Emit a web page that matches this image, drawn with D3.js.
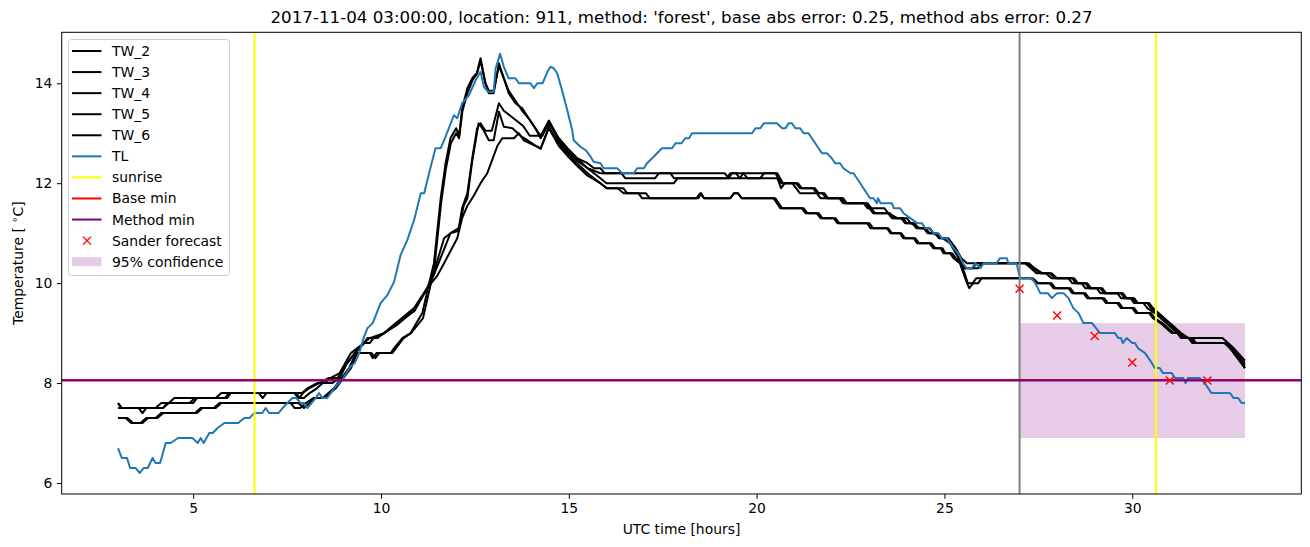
<!DOCTYPE html>
<html>
<head>
<meta charset="utf-8">
<script src="https://cdn.jsdelivr.net/npm/d3@7"></script>
<style>
  body { margin: 0; background: #fff; }
  svg { font-family: "DejaVu Sans", sans-serif; }
</style>
</head>
<body>
<svg id="chart" width="1310" height="547"></svg>
<script>
// ---- data: [UTC hour, temperature] ----
const tl = [[3.0,6.7],[3.1,6.5],[3.24,6.5],[3.32,6.3],[3.47,6.3],[3.58,6.2],[3.68,6.3],[3.79,6.3],[3.92,6.5],[4.0,6.4],[4.12,6.4],[4.27,6.8],[4.4,6.8],[4.6,6.9],[4.98,6.9],[5.12,6.8],[5.2,6.9],[5.28,6.8],[5.43,7.0],[5.52,7.0],[5.65,7.1],[5.83,7.2],[6.2,7.2],[6.36,7.3],[6.5,7.3],[6.62,7.4],[6.84,7.4],[6.93,7.5],[7.02,7.4],[7.27,7.4],[7.38,7.5],[7.51,7.6],[7.64,7.7],[7.75,7.7],[7.86,7.6],[7.95,7.6],[8.04,7.5],[8.15,7.6],[8.26,7.7],[8.35,7.8],[8.44,7.7],[8.57,7.7],[8.66,7.8],[8.75,7.9],[8.88,8.0],[9.0,8.1],[9.19,8.33],[9.3,8.4],[9.42,8.6],[9.55,8.93],[9.64,9.1],[9.78,9.2],[9.9,9.43],[9.99,9.6],[10.17,9.76],[10.35,10.03],[10.52,10.56],[10.7,10.86],[10.88,11.26],[11.06,11.8],[11.15,11.8],[11.28,12.2],[11.45,12.7],[11.59,12.7],[11.72,12.93],[11.94,13.36],[12.03,13.3],[12.16,13.6],[12.34,13.76],[12.52,14.06],[12.65,14.23],[12.74,13.93],[12.85,13.83],[13.0,13.83],[13.05,14.29],[13.17,14.59],[13.27,14.33],[13.4,14.1],[13.58,14.1],[13.67,14.0],[13.98,14.0],[14.07,13.9],[14.16,14.0],[14.3,14.0],[14.43,14.23],[14.51,14.33],[14.6,14.3],[14.69,14.2],[14.82,13.86],[14.96,13.46],[15.09,13.06],[15.13,12.86],[15.31,12.73],[15.45,12.66],[15.58,12.53],[15.66,12.43],[15.84,12.4],[15.93,12.3],[16.29,12.3],[16.42,12.2],[16.73,12.2],[16.82,12.3],[17.0,12.3],[17.08,12.4],[17.22,12.5],[17.35,12.6],[17.48,12.7],[17.75,12.7],[17.84,12.8],[18.0,12.8],[18.1,12.9],[18.2,12.9],[18.28,13.0],[19.88,13.0],[19.97,13.1],[20.1,13.1],[20.19,13.2],[20.54,13.2],[20.68,13.1],[20.77,13.1],[20.85,13.2],[20.94,13.2],[21.03,13.1],[21.16,13.1],[21.25,13.0],[21.38,13.0],[21.74,12.6],[21.87,12.6],[22.0,12.5],[22.09,12.4],[22.22,12.4],[22.31,12.3],[22.5,12.2],[22.58,12.2],[22.67,12.1],[23.02,11.7],[23.11,11.7],[23.2,11.6],[23.23,11.7],[23.3,11.6],[23.6,11.6],[23.65,11.5],[23.82,11.5],[23.91,11.4],[24.09,11.3],[24.27,11.2],[24.4,11.2],[24.49,11.1],[24.62,11.1],[24.71,11.0],[24.84,11.0],[24.93,10.9],[25.06,10.9],[25.15,10.8],[25.24,10.7],[25.37,10.59],[25.5,10.39],[25.59,10.3],[25.73,10.3],[25.82,10.4],[25.96,10.3],[26.04,10.4],[26.39,10.4],[26.48,10.5],[26.66,10.5],[26.7,10.4],[26.92,10.4],[27.01,10.1],[27.32,10.1],[27.42,10.0],[27.55,9.8],[27.75,9.8],[27.86,9.7],[28.0,9.8],[28.17,9.8],[28.3,9.7],[28.43,9.5],[28.57,9.4],[28.7,9.2],[28.93,9.2],[29.14,9.0],[29.54,9.0],[29.63,8.9],[29.7,8.9],[29.75,8.8],[29.85,8.9],[30.0,8.8],[30.07,8.8],[30.15,8.7],[30.34,8.6],[30.47,8.46],[30.6,8.3],[30.73,8.3],[30.82,8.2],[31.05,8.2],[31.14,8.1],[31.36,8.1],[31.42,8.0],[31.48,8.1],[31.8,8.1],[31.93,8.0],[32.11,7.8],[32.6,7.8],[32.7,7.7],[32.82,7.7],[32.91,7.6],[33.0,7.6]];

const tw2 = [[3.0,7.3],[3.2,7.3],[3.35,7.2],[3.6,7.2],[3.75,7.3],[4.0,7.3],[4.15,7.4],[5.05,7.4],[5.2,7.5],[5.55,7.5],[5.7,7.6],[7.8,7.6],[7.95,7.5],[8.1,7.6],[8.25,7.7],[8.5,7.7],[8.65,7.8],[8.8,7.9],[9.0,8.1],[9.2,8.3],[9.37,8.6],[9.7,8.6],[9.78,8.5],[9.88,8.6],[10.26,8.6],[10.35,8.7],[10.57,8.9],[10.79,9.0],[11.1,9.4],[11.25,9.9],[11.41,10.4],[11.59,11.7],[11.72,12.4],[11.85,12.9],[12.0,13.1],[12.08,12.95],[12.16,13.5],[12.3,13.9],[12.43,14.1],[12.55,14.2],[12.65,14.5],[12.78,14.0],[12.87,13.8],[13.0,13.8],[13.14,14.4],[13.27,14.1],[13.4,13.8],[13.58,13.6],[13.76,13.5],[13.93,13.3],[14.11,13.1],[14.25,12.9],[14.47,13.2],[14.73,12.9],[14.96,12.7],[15.22,12.5],[15.5,12.4],[15.67,12.3],[15.84,12.3],[15.95,12.2],[19.15,12.2],[19.25,12.1],[19.35,12.2],[20.5,12.2],[20.65,12.0],[21.05,12.0],[21.15,11.9],[21.5,11.9],[21.6,11.8],[21.75,11.8],[21.85,11.7],[22.25,11.7],[22.35,11.6],[22.9,11.6],[23.0,11.5],[23.1,11.4],[23.5,11.4],[23.6,11.3],[23.85,11.3],[23.95,11.2],[24.15,11.2],[24.25,11.1],[24.45,11.1],[24.55,11.0],[24.75,11.0],[24.85,10.9],[25.05,10.9],[25.15,10.8],[25.25,10.7],[25.4,10.5],[25.55,10.3],[25.75,10.3],[25.85,10.4],[27.2,10.4],[27.35,10.3],[27.55,10.2],[27.8,10.2],[27.95,10.1],[28.4,10.1],[28.5,10.0],[28.75,10.0],[28.85,9.9],[29.15,9.9],[29.25,9.8],[29.7,9.8],[29.8,9.7],[30.0,9.7],[30.1,9.6],[30.4,9.6],[30.5,9.5],[30.65,9.4],[30.8,9.3],[30.95,9.2],[31.1,9.1],[31.25,9.0],[31.4,8.9],[32.4,8.9],[32.55,8.8],[32.7,8.7],[33.0,8.45]];

const tw3 = [[3.0,7.3],[3.25,7.3],[3.4,7.2],[3.65,7.2],[3.8,7.3],[4.05,7.3],[4.2,7.4],[5.1,7.4],[5.25,7.5],[5.6,7.5],[5.75,7.6],[7.6,7.6],[7.7,7.5],[7.85,7.5],[8.0,7.6],[8.2,7.7],[8.45,7.7],[8.6,7.8],[8.75,7.9],[8.95,8.1],[9.15,8.3],[9.33,8.6],[9.75,8.6],[9.85,8.5],[9.95,8.6],[10.3,8.6],[10.4,8.7],[10.6,8.9],[10.8,9.0],[11.12,9.3],[11.27,9.8],[11.42,10.3],[11.6,11.6],[11.73,12.3],[11.86,12.8],[12.0,13.0],[12.08,12.9],[12.17,13.45],[12.3,13.8],[12.43,14.05],[12.56,14.2],[12.65,14.45],[12.78,14.0],[12.87,13.85],[13.0,13.85],[13.14,14.35],[13.27,14.1],[13.4,13.85],[13.58,13.65],[13.76,13.45],[13.93,13.3],[14.11,13.1],[14.25,12.95],[14.47,13.25],[14.73,12.85],[14.96,12.65],[15.22,12.45],[15.5,12.3],[15.84,12.2],[16.4,12.2],[16.5,12.1],[17.3,12.1],[17.4,12.2],[17.7,12.2],[17.8,12.1],[19.55,12.1],[19.65,12.2],[19.75,12.1],[20.1,12.1],[20.2,12.2],[20.55,12.2],[20.7,12.0],[21.1,12.0],[21.2,11.9],[21.55,11.9],[21.65,11.8],[21.8,11.8],[21.9,11.7],[22.3,11.7],[22.4,11.6],[22.95,11.6],[23.05,11.5],[23.15,11.4],[23.55,11.4],[23.65,11.3],[23.9,11.3],[24.0,11.2],[24.2,11.2],[24.3,11.1],[24.5,11.1],[24.6,11.0],[24.8,11.0],[24.9,10.9],[25.1,10.9],[25.2,10.8],[25.3,10.7],[25.45,10.5],[25.6,10.4],[27.25,10.4],[27.4,10.3],[27.6,10.2],[27.85,10.2],[28.0,10.1],[28.45,10.1],[28.55,10.0],[28.8,10.0],[28.9,9.9],[29.2,9.9],[29.3,9.8],[29.75,9.8],[29.85,9.7],[30.05,9.7],[30.15,9.6],[30.45,9.6],[30.55,9.5],[30.7,9.4],[30.85,9.3],[31.0,9.2],[31.15,9.1],[31.3,9.0],[31.5,8.9],[31.6,8.8],[32.45,8.8],[32.6,8.7],[32.75,8.6],[33.0,8.4]];

const tw4 = [[3.0,7.6],[3.1,7.5],[4.0,7.5],[4.15,7.6],[4.35,7.6],[4.5,7.7],[5.6,7.7],[5.75,7.8],[7.9,7.8],[8.05,7.9],[8.3,8.0],[8.5,8.0],[8.65,8.1],[8.9,8.2],[9.05,8.4],[9.2,8.6],[9.37,8.7],[9.55,8.8],[9.64,8.9],[9.9,8.9],[10.08,9.0],[10.4,9.2],[10.88,9.5],[11.23,9.9],[11.4,10.2],[11.68,10.9],[11.85,11.0],[12.07,11.1],[12.16,11.5],[12.3,11.8],[12.43,12.5],[12.56,13.1],[12.65,13.2],[12.78,13.05],[12.95,13.05],[13.14,13.6],[13.27,13.45],[13.44,13.35],[13.61,13.25],[13.78,13.15],[13.96,12.95],[14.1,12.95],[14.3,12.95],[14.47,13.25],[14.73,12.9],[14.96,12.7],[15.22,12.5],[15.5,12.3],[15.84,12.1],[16.0,12.0],[17.8,12.0],[17.9,12.1],[19.2,12.1],[19.3,12.2],[19.45,12.2],[19.55,12.1],[20.55,12.1],[20.65,11.9],[20.75,12.0],[20.95,12.0],[21.05,11.9],[21.15,11.8],[21.6,11.8],[21.7,11.7],[22.2,11.7],[22.3,11.6],[22.85,11.6],[22.95,11.5],[23.4,11.5],[23.5,11.4],[23.75,11.3],[24.0,11.3],[24.1,11.2],[24.35,11.1],[24.6,11.1],[24.7,11.0],[24.95,10.9],[25.15,10.8],[25.3,10.6],[25.45,10.4],[25.55,10.3],[25.9,10.3],[26.0,10.4],[27.15,10.4],[27.3,10.3],[27.45,10.2],[27.7,10.2],[27.85,10.1],[28.3,10.1],[28.4,10.0],[28.65,10.0],[28.75,9.9],[29.05,9.9],[29.15,9.8],[29.6,9.8],[29.7,9.7],[29.95,9.7],[30.05,9.6],[30.3,9.6],[30.4,9.5],[30.6,9.4],[30.75,9.3],[30.9,9.2],[31.05,9.1],[31.2,9.0],[31.35,8.9],[31.55,8.9],[31.65,8.8],[32.5,8.8],[32.6,8.7],[32.75,8.6],[33.0,8.35]];

const tw5 = [[3.0,7.6],[3.1,7.5],[3.55,7.5],[3.65,7.4],[3.75,7.5],[4.2,7.5],[4.35,7.6],[4.9,7.6],[5.05,7.7],[5.85,7.7],[5.95,7.8],[6.75,7.8],[6.85,7.7],[6.95,7.8],[7.75,7.8],[7.83,7.7],[7.92,7.8],[8.1,7.9],[8.35,8.0],[8.6,8.1],[8.85,8.1],[9.0,8.3],[9.2,8.5],[9.37,8.65],[9.55,8.8],[9.7,8.9],[10.08,9.0],[10.4,9.15],[10.88,9.45],[11.23,9.9],[11.4,10.15],[11.85,11.0],[12.07,11.05],[12.2,11.55],[12.3,11.7],[12.43,12.45],[12.52,12.85],[12.6,13.2],[12.74,13.05],[12.87,12.86],[13.0,12.86],[13.14,13.43],[13.27,13.13],[13.5,13.1],[13.74,12.93],[13.9,12.86],[14.1,12.76],[14.25,12.69],[14.47,13.13],[14.73,12.8],[14.96,12.6],[15.22,12.4],[15.5,12.2],[15.84,12.0],[16.0,11.9],[16.45,11.9],[16.55,11.8],[17.05,11.8],[17.15,11.7],[18.45,11.7],[18.52,11.8],[18.6,11.7],[19.3,11.7],[19.4,11.8],[19.5,11.8],[19.6,11.7],[20.5,11.7],[20.68,11.5],[21.25,11.5],[21.35,11.4],[21.65,11.4],[21.75,11.3],[22.1,11.3],[22.2,11.2],[23.0,11.2],[23.1,11.1],[23.5,11.1],[23.6,11.0],[23.85,11.0],[23.95,10.9],[24.22,10.9],[24.32,10.8],[24.65,10.8],[24.75,10.7],[24.95,10.7],[25.02,10.6],[25.2,10.6],[25.3,10.5],[25.45,10.4],[25.62,10.0],[25.75,10.0],[25.85,10.1],[27.35,10.1],[27.5,10.0],[27.85,10.0],[27.95,9.9],[28.35,9.9],[28.45,9.8],[28.75,9.8],[28.85,9.7],[29.25,9.7],[29.35,9.6],[29.65,9.6],[29.75,9.5],[30.05,9.5],[30.15,9.4],[30.5,9.4],[30.6,9.3],[30.8,9.2],[30.95,9.1],[31.1,9.0],[31.25,9.0],[31.35,8.9],[31.6,8.9],[31.7,8.8],[32.55,8.8],[32.65,8.7],[33.0,8.3]];

const tw6 = [[3.0,7.5],[4.2,7.5],[4.3,7.6],[5.0,7.6],[5.1,7.7],[5.9,7.7],[6.0,7.8],[7.7,7.8],[7.8,7.7],[7.95,7.7],[8.1,7.8],[8.3,7.9],[8.45,8.0],[8.7,8.0],[8.9,8.1],[9.1,8.4],[9.3,8.6],[9.55,8.8],[9.7,8.8],[9.8,8.9],[10.1,9.0],[10.4,9.2],[10.9,9.45],[11.23,9.9],[11.5,10.15],[11.68,10.4],[12.03,10.9],[12.16,11.3],[12.3,11.55],[12.47,11.75],[12.65,12.0],[12.83,12.2],[13.1,12.75],[13.23,12.9],[13.54,12.9],[13.67,13.0],[13.8,12.86],[14.15,12.73],[14.25,12.69],[14.47,13.1],[14.73,12.75],[14.96,12.55],[15.22,12.35],[15.5,12.15],[15.84,12.0],[16.02,11.9],[16.3,11.9],[16.46,11.8],[16.85,11.8],[16.95,11.7],[18.4,11.7],[18.5,11.8],[18.6,11.7],[19.3,11.7],[19.4,11.8],[19.5,11.8],[19.6,11.7],[20.45,11.7],[20.63,11.5],[21.2,11.5],[21.3,11.4],[21.6,11.4],[21.7,11.3],[22.05,11.3],[22.15,11.2],[22.94,11.2],[23.03,11.1],[23.47,11.1],[23.56,11.0],[23.82,11.0],[23.9,10.9],[24.18,10.9],[24.27,10.8],[24.6,10.8],[24.7,10.7],[24.9,10.7],[24.97,10.6],[25.15,10.6],[25.24,10.5],[25.41,10.4],[25.6,10.0],[25.66,9.9],[25.77,10.0],[25.9,10.0],[25.99,10.1],[27.3,10.1],[27.45,10.0],[27.8,10.0],[27.9,9.9],[28.3,9.9],[28.4,9.8],[28.7,9.8],[28.8,9.7],[29.2,9.7],[29.3,9.6],[29.6,9.6],[29.7,9.5],[30.0,9.5],[30.1,9.4],[30.45,9.4],[30.55,9.3],[30.75,9.2],[30.9,9.1],[31.05,9.0],[31.2,9.0],[31.3,8.9],[31.55,8.9],[31.65,8.8],[32.5,8.8],[32.6,8.7],[33.0,8.3]];

const twNames = ["TW_2", "TW_3", "TW_4", "TW_5", "TW_6"];
const sunriseHours = [6.633, 30.63];
const forecastStartHour = 27.0;
const baseMin = 8.06;
const methodMin = 8.05;
const forecastHours = [27, 28, 29, 30, 31, 32];
const forecastTemps = [9.89, 9.35, 8.94, 8.41, 8.05, 8.05];
const confHours = [27, 33];
const confTemps = [6.9, 9.2];
const xTicks = [5, 10, 15, 20, 25, 30];
const yTicks = [6, 8, 10, 12, 14];

const svg = d3.select("#chart");
const pL = 61.7, pR = 1301.3, pT = 32.3, pB = 494;
const lw = 2;

const x = d3.scaleLinear().domain([1.5, 34.5]).range([pL, pR]);
const y = d3.scaleLinear().domain([5.78, 15.02]).range([pB, pT]);

svg.append("rect").attr("width", 1310).attr("height", 547).attr("fill", "#fff");

svg.append("clipPath").attr("id", "plotclip")
  .append("rect").attr("x", pL).attr("y", pT)
  .attr("width", pR - pL).attr("height", pB - pT);

const plot = svg.append("g").attr("clip-path", "url(#plotclip)");

// confidence band
plot.append("rect")
  .attr("x", x(confHours[0])).attr("width", x(confHours[1]) - x(confHours[0]))
  .attr("y", y(confTemps[1])).attr("height", y(confTemps[0]) - y(confTemps[1]))
  .attr("fill", "purple").attr("fill-opacity", 0.2);

const line = d3.line().x(d => x(d[0])).y(d => y(d[1]));

[tw2, tw3, tw4, tw5, tw6].forEach(s => {
  plot.append("path").datum(s)
    .attr("d", line)
    .attr("fill", "none").attr("stroke", "black")
    .attr("stroke-width", lw).attr("stroke-linejoin", "round");
});

plot.append("path").datum(tl)
  .attr("d", line)
  .attr("fill", "none").attr("stroke", "#1f77b4")
  .attr("stroke-width", lw).attr("stroke-linejoin", "round");

// forecast start marker
plot.append("line")
  .attr("x1", x(forecastStartHour)).attr("x2", x(forecastStartHour))
  .attr("y1", pT).attr("y2", pB)
  .attr("stroke", "gray").attr("stroke-width", lw);

plot.selectAll(".sunrise").data(sunriseHours).enter().append("line")
  .attr("class", "sunrise")
  .attr("x1", d => x(d)).attr("x2", d => x(d))
  .attr("y1", pT).attr("y2", pB)
  .attr("stroke", "yellow").attr("stroke-width", lw);

[[baseMin, "red"], [methodMin, "purple"]].forEach(([v, c]) => {
  plot.append("line")
    .attr("x1", pL).attr("x2", pR)
    .attr("y1", y(v)).attr("y2", y(v))
    .attr("stroke", c).attr("stroke-width", lw);
});

const xMark = "M-4,-4L4,4M-4,4L4,-4";
plot.selectAll(".fc").data(forecastHours).enter().append("path")
  .attr("class", "fc")
  .attr("transform", (d, i) => `translate(${x(d)},${y(forecastTemps[i])})`)
  .attr("d", xMark)
  .attr("stroke", "red").attr("stroke-width", 1.4).attr("fill", "none");

// axes
const fontSize = "13.9px";
const xAxis = svg.append("g").attr("transform", `translate(0,${pB})`)
  .call(d3.axisBottom(x).tickValues(xTicks).tickSize(4.8).tickPadding(4.5).tickFormat(d3.format("d")));
const yAxis = svg.append("g").attr("transform", `translate(${pL},0)`)
  .call(d3.axisLeft(y).tickValues(yTicks).tickSize(4.8).tickPadding(4.5).tickFormat(d3.format("d")));
[xAxis, yAxis].forEach(a => {
  a.select(".domain").remove();
  a.attr("font-family", "DejaVu Sans").attr("font-size", fontSize);
  a.selectAll("line").attr("stroke", "black").attr("stroke-width", 1);
  a.selectAll("text").attr("fill", "black");
});

// spines
svg.append("rect")
  .attr("x", pL).attr("y", pT)
  .attr("width", pR - pL).attr("height", pB - pT)
  .attr("fill", "none").attr("stroke", "black").attr("stroke-width", 1);

svg.append("text")
  .attr("x", (pL + pR) / 2).attr("y", 23)
  .attr("text-anchor", "middle").attr("font-size", "16.7px")
  .text("2017-11-04 03:00:00, location: 911, method: 'forest', base abs error: 0.25, method abs error: 0.27");

svg.append("text")
  .attr("x", (pL + pR) / 2).attr("y", 534)
  .attr("text-anchor", "middle").attr("font-size", fontSize)
  .text("UTC time [hours]");

const yl = svg.append("text")
  .attr("transform", `translate(23,${(pT + pB) / 2}) rotate(-90)`)
  .attr("text-anchor", "middle").attr("font-size", fontSize);
yl.append("tspan").text("Temperature [ ");
yl.append("tspan").attr("font-size", "10px").attr("dy", -5).text("\u2218");
yl.append("tspan").attr("dy", 5).text("C]");

// legend
const legendItems = twNames.map(n => ({label: n, kind: "line", color: "black"})).concat([
  {label: "TL", kind: "line", color: "#1f77b4"},
  {label: "sunrise", kind: "line", color: "yellow"},
  {label: "Base min", kind: "line", color: "red"},
  {label: "Method min", kind: "line", color: "purple"},
  {label: "Sander forecast", kind: "marker", color: "red"},
  {label: "95% confidence", kind: "patch", color: "purple"}
]);

const lg = svg.append("g");
lg.append("rect")
  .attr("x", 68.5).attr("y", 39.5).attr("width", 161).attr("height", 236)
  .attr("rx", 3).attr("fill", "white").attr("fill-opacity", 0.8)
  .attr("stroke", "#cccccc").attr("stroke-width", 1);

const rowY = i => 51 + i * 21.07;
legendItems.forEach((it, i) => {
  const cy = rowY(i);
  if (it.kind === "line") {
    lg.append("line").attr("x1", 72).attr("x2", 101.5)
      .attr("y1", cy).attr("y2", cy)
      .attr("stroke", it.color).attr("stroke-width", lw);
  } else if (it.kind === "marker") {
    lg.append("path").attr("transform", `translate(87,${cy})`)
      .attr("d", xMark).attr("stroke", it.color).attr("stroke-width", 1.4);
  } else {
    lg.append("rect").attr("x", 72).attr("y", cy - 4.5)
      .attr("width", 29.5).attr("height", 9)
      .attr("fill", it.color).attr("fill-opacity", 0.2);
  }
  lg.append("text").attr("x", 112).attr("y", cy).attr("dy", "0.36em")
    .attr("font-size", fontSize).text(it.label);
});
</script>
</body>
</html>
